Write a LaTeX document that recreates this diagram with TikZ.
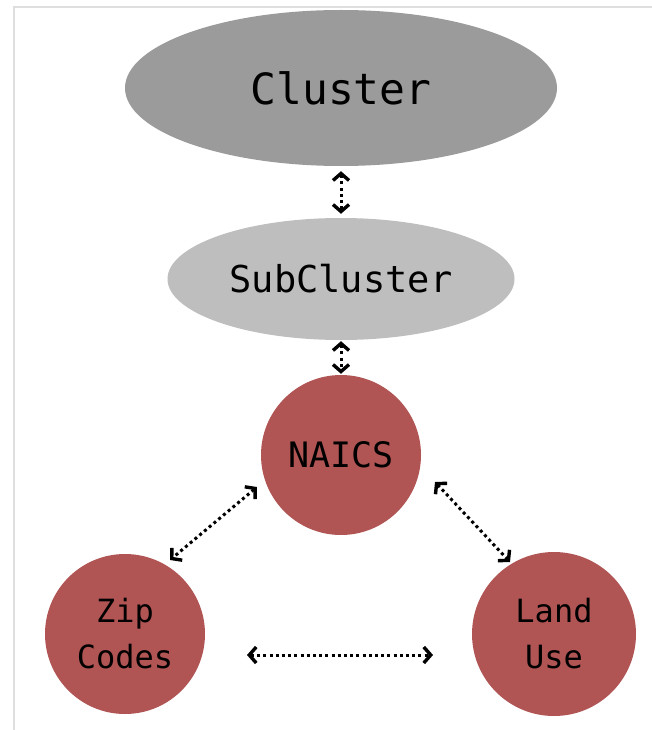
\documentclass[tikz,border=0pt]{standalone}
\usepackage{fontspec}
\setmonofont{DejaVu Sans Mono}
\usetikzlibrary{shapes.geometric,arrows.meta,calc}
\definecolor{clgray}{RGB}{155,155,155}
\definecolor{scgray}{RGB}{190,190,190}
\definecolor{nodered}{RGB}{176,84,84}
\definecolor{framegray}{RGB}{222,222,222}
\tikzset{
  ell/.style={ellipse, draw=none, inner sep=0pt, font=\ttfamily},
  circ/.style={circle, fill=nodered, draw=none, minimum size=160pt, inner sep=0pt, align=center, font=\ttfamily\fontsize{32}{46}\selectfont},
  conn/.style={line width=3pt, dash pattern=on 3pt off 3.2pt, {Straight Barb[length=7pt,width=16pt,line width=3.4pt]}-{Straight Barb[length=7pt,width=16pt,line width=3.4pt]}}
}
\begin{document}
\begin{tikzpicture}[x=1pt,y=-1pt]
\useasboundingbox (0,0) rectangle (652,730);
\draw[framegray, line width=1.2pt] (14,730) -- (14,7) -- (652,7);
\node[ell, fill=clgray, minimum width=432pt, minimum height=156pt, font=\ttfamily\fontsize{43}{46}\selectfont] (cl) at (341,88) {Cluster};
\node[ell, fill=scgray, minimum width=347pt, minimum height=122pt, font=\ttfamily\fontsize{37}{42}\selectfont] (sc) at (341,279) {SubCluster};
\node[circ, font=\ttfamily\fontsize{35}{40}\selectfont] (na) at (341,455) {NAICS};
\node[circ] (zc) at (125,634) {Zip\\Codes};
\node[circ, minimum size=164pt] (lu) at (554,634) {Land\\Use};
\draw[conn, shorten <=5pt, shorten >=4pt] (cl) -- (sc);
\draw[conn, shorten <=1pt, shorten >=1pt] (sc) -- (na);
\draw[conn] ($(na)+(-84pt,-32pt)$) -- ($(zc)+(45pt,74pt)$);
\draw[conn] ($(na)+(94pt,-27pt)$) -- ($(lu)+(-44pt,72pt)$);
\draw[conn] ($(zc)+(122pt,-21pt)$) -- ($(lu)+(-121pt,-21pt)$);
\end{tikzpicture}
\end{document}
